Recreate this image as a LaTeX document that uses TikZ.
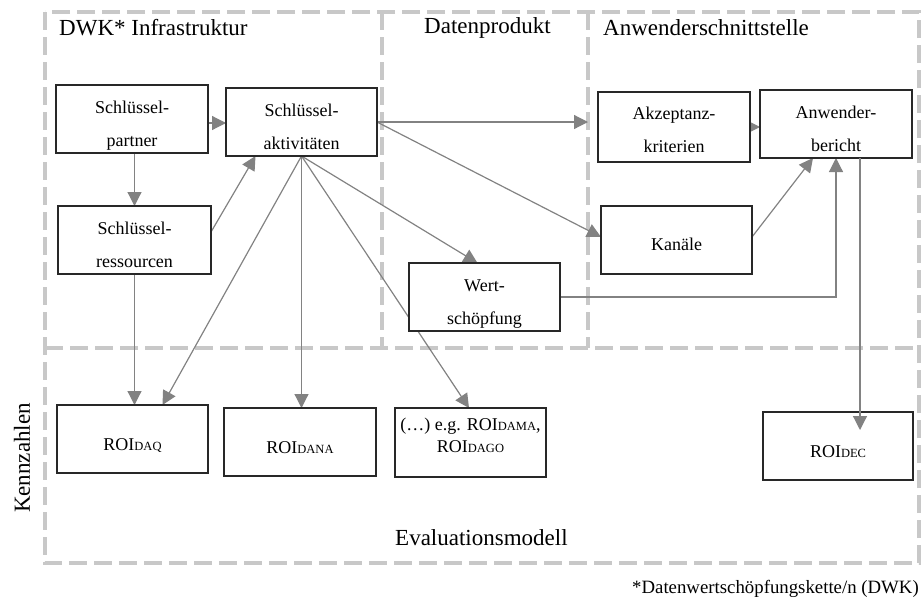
\documentclass[tikz,border=0pt]{standalone}
\usepackage{fontspec}
\setmainfont{Liberation Serif}
\usetikzlibrary{arrows.meta,calc}
\pgfdeclarelayer{frames}
\pgfdeclarelayer{links}
\pgfsetlayers{frames,links,main}
\definecolor{framegray}{RGB}{200,200,200}
\definecolor{linkgray}{RGB}{130,130,130}
\definecolor{boxline}{RGB}{40,40,40}
% reduced capitals used as index after "ROI"
\newcommand{\rsc}[1]{{\fontsize{12.5}{14}\selectfont #1}}
\begin{document}
\begin{tikzpicture}[x=1pt,y=-1pt,
  stepbox/.style={draw=boxline, line width=1.1pt, fill=white, inner sep=0pt, outer sep=0pt,
    minimum width=151pt, minimum height=68pt, align=center,
    font=\fontsize{18}{33}\selectfont, text height=54pt, text depth=0pt},
  roibox/.style={stepbox, text height=23pt, text depth=0pt},
  region/.style={draw=framegray, line width=4.5pt, dash pattern=on 18pt off 7pt},
  link/.style={draw=linkgray, line width=1.2pt, -{Triangle[length=14pt,width=14pt]}},
  heading/.style={font=\fontsize{23}{27}\selectfont, inner sep=0pt, anchor=base west},
]
\useasboundingbox (0,0) rectangle (921,603);

% dashed areas
\begin{pgfonlayer}{frames}
  \draw[region] (45,12) rectangle (919,563);
  \draw[region] (45,348) -- (919,348);
  \draw[region] (382,12) -- (382,348);
  \draw[region] (588,12) -- (588,348);
\end{pgfonlayer}

% area titles
\node[heading] (hinfra) at (59,35) {DWK* Infrastruktur};
\node[heading] (hprod) at (424,33) {Datenprodukt};
\node[heading] (hui) at (603,35) {Anwenderschnittstelle};
\node[heading] (heval) at (395,545) {Evaluationsmodell};
\node[font=\fontsize{23}{27}\selectfont, rotate=90, inner sep=0pt] (hkpi) at (22,458) {Kennzahlen};
\node[font=\fontsize{18.8}{22}\selectfont, inner sep=0pt, anchor=base east] (note) at (919,593) {*Datenwertschöpfungskette/n (DWK)};

% building blocks
\node[stepbox, minimum width=152pt] (partner) at (132,119) {Schlüssel-\\partner};
\node[stepbox] (akt) at (301.5,122) {Schlüssel-\\aktivitäten};
\node[stepbox, minimum width=153pt] (res) at (134.5,240) {Schlüssel-\\ressourcen};
\node[stepbox, minimum width=152pt, minimum height=70pt, text height=50pt] (akz) at (674,127) {Akzeptanz-\\kriterien};
\node[stepbox, minimum width=152pt] (anw) at (836,124) {Anwender-\\bericht};
\node[stepbox, text height=20pt, text depth=0pt] (kan) at (676.5,240) {Kanäle};
\node[stepbox] (wert) at (484.5,297) {Wert-\\schöpfung};

% key figures
\node[roibox] (daq) at (132.5,439) {ROI\rsc{DAQ}};
\node[roibox, minimum width=152pt] (dana) at (300,442) {ROI\rsc{DANA}};
\node[stepbox, minimum height=69pt, font=\fontsize{18}{22}\selectfont, text height=19pt, text depth=0pt] (etc) at (470.5,442.5) {(…) e.g. ROI\rsc{DAMA},\\ROI\rsc{DAGO}};
\node[roibox, minimum width=150pt] (dec) at (838,446) {ROI\rsc{DEC}};

% connectors
\begin{pgfonlayer}{links}
  \draw[link] ([yshift=-4pt]partner.east) -- ([yshift=-1pt]akt.west);
  \draw[link] (partner.south -| res.north) -- (res.north);
  \draw[link] ([yshift=8pt]res.east) -- ([xshift=-46pt]akt.south);
  \draw[link] (res.south) -- (res.south |- daq.north);
  \draw[link] (akt.south) -- ([xshift=30pt]daq.north);
  \draw[link] (akt.south) -- (akt.south |- dana.north);
  \draw[link] (akt.south) -- ([xshift=-1.5pt]etc.north);
  \draw[link] (akt.south) -- ([xshift=-7pt]wert.north);
  \draw[link] (akt.east) -- ($(akz.west |- akt.east)+(-10,0)$);
  \draw[link] (akt.east) -- ([yshift=3pt]kan.west);
  \draw[link] (akz.east) -- (akz.east -| anw.west);
  \draw[link] ([yshift=3pt]kan.east) -- ([xshift=-23pt]anw.south);
  \draw[link] (wert.east) -| (anw.south);
\end{pgfonlayer}
\draw[link] ([xshift=24pt]anw.south) -- ([xshift=22pt,yshift=-18pt]dec.north);
\end{tikzpicture}
\end{document}
